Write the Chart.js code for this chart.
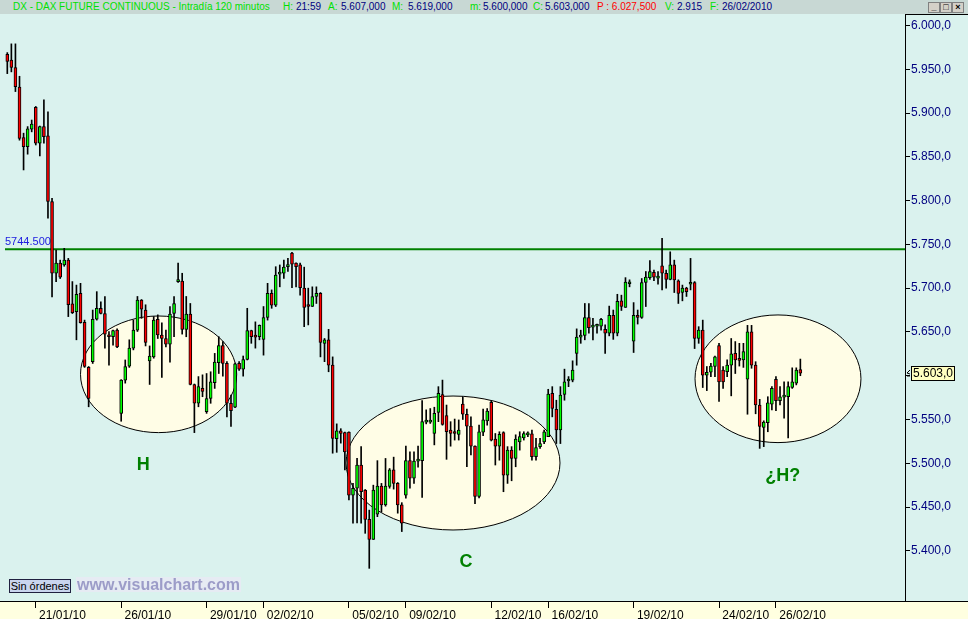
<!DOCTYPE html>
<html>
<head>
<meta charset="utf-8">
<title>DAX future 120 min</title>
<script src="https://cdn.jsdelivr.net/npm/chart.js@4.4.1/dist/chart.umd.min.js"></script>
<style>
  html, body { margin: 0; padding: 0; background: #daf2ee; overflow: hidden; }
  #wrap { position: relative; width: 968px; height: 619px; }
  #chart { position: absolute; left: 0; top: 0; }
  #header { position: absolute; left: 0; top: 0; width: 968px; height: 14px; background: #c8d8d4;
            font: 10px "Liberation Sans", Arial, sans-serif; }
  #header span { position: absolute; top: 2px; line-height: 10px; white-space: pre; }
  .g { color: #00e000; }
  .n { color: #000080; }
  .r { color: #ff0000; }
  .btn { position: absolute; top: 2px; width: 10px; height: 9px; background: #d4d0c8;
         border: 1px solid #808080; font: bold 9px "Liberation Sans", Arial; line-height: 8px;
         text-align: center; color: #000; }
  #orders { position: absolute; left: 9px; top: 579px; width: 60px; height: 12px; background: #c9d5ee;
            border: 1px solid #202040; font: 11px "Liberation Sans", Arial, sans-serif; line-height: 12px;
            text-align: center; color: #000; }
  #mark { position: absolute; left: 76px; top: 577px; height: 15px; background: #e6ebf3; padding: 0 1px;
          font: bold 16px "Liberation Sans", Arial, sans-serif; line-height: 15px; color: #9c9cc8; }
</style>
</head>
<body>
<div id="wrap">
  <canvas id="chart" width="968" height="619"></canvas>
  <div id="header">
    <span class="g" style="left:13px">DX - DAX FUTURE CONTINUOUS - Intradía 120 minutos</span>
    <span class="g" style="left:283px">H:</span><span class="n" style="left:296px">21:59</span>
    <span class="g" style="left:328px">A:</span><span class="n" style="left:341px">5.607,000</span>
    <span class="g" style="left:392px">M:</span><span class="n" style="left:408px">5.619,000</span>
    <span class="g" style="left:470px">m:</span><span class="n" style="left:483px">5.600,000</span>
    <span class="g" style="left:533px">C:</span><span class="n" style="left:545px">5.603,000</span>
    <span class="r" style="left:597px">P : 6.027,500</span>
    <span class="g" style="left:665px">V:</span><span class="n" style="left:677px">2.915</span>
    <span class="g" style="left:710px">F:</span><span class="n" style="left:722px">26/02/2010</span>
    <div class="btn" style="left:928px">_</div>
    <div class="btn" style="left:940px">□</div>
    <div class="btn" style="left:952px">×</div>
  </div>
  <div id="orders">Sin órdenes</div>
  <div id="mark">www.visualchart.com</div>
</div>
<script>
// ------------------------
// Data (120 minute bars, 7 per session)
// ------------------------

const days = ['20/01/10', '21/01/10', '22/01/10', '25/01/10', '26/01/10', '27/01/10', '28/01/10',
  '29/01/10', '01/02/10', '02/02/10', '03/02/10', '04/02/10', '05/02/10', '08/02/10', '09/02/10',
  '10/02/10', '11/02/10', '12/02/10', '15/02/10', '16/02/10', '17/02/10', '18/02/10', '19/02/10',
  '22/02/10', '23/02/10', '24/02/10', '25/02/10', '26/02/10'];

const axisDays = ['21/01/10', '26/01/10', '29/01/10', '02/02/10', '05/02/10', '09/02/10',
  '12/02/10', '16/02/10', '19/02/10', '24/02/10', '26/02/10'];

const barsPerDay = 7;

const open = [
  5967, 5960.5, 5952, 5929.5, 5872, 5861.5, 5881.5, 5906.5, 5865.5, 5884.5,
  5874, 5799, 5717, 5728.5, 5726.5, 5732, 5682, 5673, 5694, 5661,
  5609.5, 5616, 5664.5, 5677, 5671, 5646.5, 5644.5, 5652, 5557, 5595,
  5611, 5631.5, 5652, 5686.5, 5675, 5617, 5621.5, 5664.5, 5646.5, 5642.5,
  5636, 5671, 5707.5, 5708, 5653, 5670.5, 5590, 5568.5, 5585.5, 5559,
  5574, 5592, 5615, 5634.5, 5614, 5568.5, 5564, 5614, 5607.5, 5618.5,
  5651.5, 5645.5, 5644.5, 5641.5, 5666.5, 5694, 5680.5, 5716, 5717, 5724.5,
  5740, 5728.5, 5726.5, 5700, 5679.5, 5679, 5690.5, 5694, 5637, 5641,
  5612, 5528, 5537, 5535, 5535.5, 5463.5, 5471.5, 5498, 5469.5, 5436,
  5413, 5442, 5474, 5452.5, 5473.5, 5492.5, 5477, 5452.5, 5463.5, 5503,
  5483, 5502.5, 5503, 5547, 5547, 5534, 5558, 5578.5, 5554.5, 5538,
  5534.5, 5533, 5567.5, 5556, 5542.5, 5519.5, 5462, 5535.5, 5548.5, 5569.5,
  5527.5, 5519.5, 5535, 5486.5, 5515, 5505.5, 5524.5, 5529, 5532.5, 5533.5,
  5507.5, 5519, 5524.5, 5530.5, 5580, 5561.5, 5538, 5578.5, 5594, 5595,
  5625.5, 5644, 5646, 5666.5, 5655.5, 5656.5, 5656.5, 5653, 5648.5, 5669,
  5648.5, 5685.5, 5678, 5705, 5639.5, 5669, 5666.5, 5706.5, 5712, 5718,
  5711.5, 5725.5, 5717, 5710, 5726.5, 5708.5, 5695, 5700, 5704.5, 5706.5,
  5642.5, 5652, 5600.5, 5604, 5610.5, 5634.5, 5606.5, 5604.5, 5612, 5625.5,
  5618.5, 5618, 5596, 5650, 5612, 5566.5, 5541, 5546.5, 5567.5, 5596,
  5571.5, 5575.5, 5576, 5586.5, 5591.5, 5607
];

const high = [
  5969, 5979, 5979, 5942, 5877, 5884.5, 5892, 5907.5, 5885, 5915,
  5901.5, 5802.5, 5743.5, 5732, 5745.5, 5734, 5707.5, 5703.5, 5705.5, 5663.5,
  5610.5, 5675, 5696, 5684.5, 5690.5, 5650.5, 5652, 5653.5, 5595.5, 5618,
  5641, 5663.5, 5690.5, 5687, 5681, 5634, 5667.5, 5669.5, 5660.5, 5652,
  5679, 5690.5, 5728.5, 5717, 5690.5, 5682.5, 5590.5, 5599, 5601, 5602.5,
  5604.5, 5625.5, 5644.5, 5639, 5616, 5578, 5614.5, 5616, 5622.5, 5677,
  5652, 5661.5, 5658, 5679, 5705.5, 5698, 5724.5, 5726.5, 5732, 5734,
  5741, 5729, 5728.5, 5724, 5700, 5701.5, 5701.5, 5695, 5642.5, 5653,
  5621.5, 5545, 5539.5, 5535.5, 5536, 5477, 5505.5, 5519, 5470, 5446.5,
  5475, 5503, 5477, 5505.5, 5494, 5507, 5478, 5455, 5519.5, 5513,
  5513, 5519.5, 5571.5, 5561, 5562.5, 5564, 5587.5, 5595, 5566.5, 5547.5,
  5550.5, 5549.5, 5576, 5562, 5553, 5520, 5543.5, 5562, 5562.5, 5571.5,
  5534, 5536, 5536, 5519, 5519, 5532.5, 5536, 5536, 5536, 5538,
  5528.5, 5528.5, 5538, 5584.5, 5587.5, 5572, 5587.5, 5607.5, 5599, 5617,
  5653.5, 5652, 5682.5, 5682.5, 5665.5, 5659, 5665.5, 5658, 5679.5, 5675,
  5693, 5692, 5712, 5709.5, 5683.5, 5675, 5711, 5719, 5731.5, 5720.5,
  5719, 5757, 5720.5, 5741.5, 5732, 5709.5, 5703.5, 5701, 5734, 5707.5,
  5656, 5663.5, 5610.5, 5614, 5622.5, 5637, 5610.5, 5618, 5642.5, 5639,
  5637, 5637, 5657.5, 5657.5, 5616, 5573, 5548.5, 5576, 5587.5, 5599,
  5587.5, 5593, 5593, 5609, 5609, 5619
];

const low = [
  5945, 5947, 5924.5, 5869, 5835, 5853, 5878.5, 5863.5, 5851, 5865.5,
  5780, 5690, 5707.5, 5711, 5725, 5667.5, 5671, 5641, 5660, 5609.5,
  5564.5, 5614, 5663.5, 5670.5, 5631.5, 5612, 5635, 5632, 5548, 5591.5,
  5609.5, 5629.5, 5650.5, 5665.5, 5634, 5590, 5620, 5642.5, 5598, 5633,
  5615.5, 5644.5, 5706.5, 5647.5, 5644.5, 5589.5, 5535, 5564.5, 5576, 5557,
  5568.5, 5585.5, 5602.5, 5599.5, 5553, 5542, 5563.5, 5606, 5599.5, 5618,
  5637, 5631.5, 5641, 5623.5, 5663.5, 5677, 5679, 5701.5, 5711, 5719,
  5700.5, 5701.5, 5692, 5656, 5658, 5679, 5682.5, 5621.5, 5616, 5604.5,
  5511.5, 5512.5, 5523, 5492.5, 5458, 5431.5, 5432, 5431.5, 5420, 5380,
  5413, 5439, 5444.5, 5451, 5471.5, 5470.5, 5443, 5422, 5460, 5471.5,
  5477, 5495.5, 5461, 5545, 5545.5, 5521, 5547.5, 5543.5, 5504.5, 5519.5,
  5526.5, 5526.5, 5550, 5496, 5509.5, 5454, 5460.5, 5531.5, 5543.5, 5525.5,
  5498, 5503.5, 5467.5, 5477, 5480, 5496, 5515, 5526.5, 5530.5, 5503.5,
  5503.5, 5517, 5522.5, 5530.5, 5553, 5522.5, 5522.5, 5572, 5587.5, 5593,
  5612, 5637, 5641, 5648.5, 5641, 5648.5, 5652, 5625.5, 5645.5, 5641.5,
  5645.5, 5674.5, 5678, 5701.5, 5626.5, 5659, 5665.5, 5679, 5710, 5708.5,
  5704.5, 5698, 5700, 5709.5, 5695, 5682.5, 5685.5, 5690.5, 5698, 5631,
  5637, 5586.5, 5583, 5599, 5599, 5570.5, 5585.5, 5599, 5577, 5602.5,
  5611, 5609.5, 5556, 5608.5, 5556.5, 5517, 5519, 5536, 5561, 5560,
  5566.5, 5551.5, 5529, 5585.5, 5589.5, 5600
];

const close = [
  5959, 5952, 5930, 5871, 5861.5, 5882, 5887.5, 5865.5, 5884.5, 5873,
  5799, 5717, 5728.5, 5712.5, 5732, 5681, 5672, 5693, 5660.5, 5610.5,
  5574, 5664.5, 5677, 5671, 5647.5, 5644.5, 5651.5, 5633, 5595, 5610.5,
  5631.5, 5652, 5686.5, 5676, 5638, 5622.5, 5663.5, 5646.5, 5642.5, 5636,
  5670.5, 5682.5, 5708.5, 5653, 5670.5, 5590, 5568.5, 5587.5, 5582, 5574,
  5593, 5615.5, 5634.5, 5614, 5568.5, 5560, 5613.5, 5607.5, 5618.5, 5651.5,
  5644.5, 5644, 5657.5, 5666.5, 5694, 5680.5, 5715, 5717, 5724, 5725.5,
  5727.5, 5724.5, 5700.5, 5678, 5679, 5690.5, 5694, 5638, 5641, 5612,
  5528.5, 5537, 5534, 5513, 5463.5, 5471.5, 5498, 5467.5, 5436, 5413,
  5469.5, 5474, 5452.5, 5474, 5492.5, 5477, 5452.5, 5431.5, 5503, 5483,
  5502.5, 5503.5, 5547.5, 5548, 5548, 5557, 5580, 5544.5, 5536, 5534,
  5534, 5538, 5556, 5542.5, 5519.5, 5462, 5536, 5549.5, 5559.5, 5526.5,
  5519.5, 5533, 5486.5, 5515, 5505.5, 5527.5, 5530.5, 5534, 5533.5, 5507.5,
  5518, 5522.5, 5536, 5579, 5562.5, 5538, 5578, 5593, 5594.5, 5606.5,
  5644, 5646, 5666.5, 5655, 5656, 5657, 5664.5, 5648.5, 5669, 5648.5,
  5685, 5679, 5707, 5706, 5669, 5666.5, 5706.5, 5712.5, 5719, 5712.5,
  5712.5, 5717, 5710, 5726.5, 5709.5, 5694, 5700, 5696, 5706.5, 5642.5,
  5652, 5600.5, 5604, 5611, 5621.5, 5593, 5593, 5612, 5625, 5618,
  5617.5, 5627.5, 5650, 5612, 5566.5, 5542, 5547, 5569, 5585.5, 5571.5,
  5576, 5576.5, 5587.5, 5593, 5606.5, 5603
];

const priceLevels = [5400, 5450, 5500, 5550, 5600, 5650, 5700, 5750, 5800, 5850, 5900, 5950, 6000];

const resistance = 5744.5;

// chart figures marked on the picture (bar index / price)
const patterns = [
  { name: 'H',   cx: 37.2,  cy: 5601.6, rx: 19.2, ry: 66.6, tx: 33.4,  ty: 5498 },
  { name: 'C',   cx: 109.6, cy: 5500.3, rx: 26.3, ry: 76.5, tx: 112.8, ty: 5387 },
  { name: '¿H?', cx: 189.5, cy: 5596.5, rx: 20.4, ry: 72.9, tx: 190.7, ty: 5485 }
];

// ------------------------
// Helpers
// ------------------------

function fmtPrice(v) {
  const parts = v.toFixed(1).split('.');
  return parts[0].replace(/\B(?=(\d{3})+(?!\d))/g, '.') + ',' + parts[1];
}

const idx = open.map((_, k) => k);
const bodies = idx.map(k => ({ x: k, y: [open[k], close[k]] }));
const wicks = idx.map(k => ({ x: k, y: [low[k], high[k]] }));
const bodyColors = idx.map(k => (close[k] >= open[k] ? '#00ff00' : '#ff0000'));
const lastClose = close[close.length - 1];

const FONT = '"Liberation Sans", Arial, sans-serif';

// ------------------------
// Plugins
// ------------------------

const backdrop = {
  id: 'backdrop',
  beforeDraw(chart) {
    const { ctx, chartArea: a, width, height } = chart;
    ctx.save();
    ctx.fillStyle = '#daf2ee';
    ctx.fillRect(0, 0, width, height);
    ctx.fillStyle = '#ffffe0';
    ctx.fillRect(0, a.bottom, width, height - a.bottom);
    ctx.strokeStyle = '#000';
    ctx.lineWidth = 1;
    ctx.beginPath();
    ctx.moveTo(0, a.bottom + 0.5);
    ctx.lineTo(width, a.bottom + 0.5);
    ctx.moveTo(a.right + 0.5, a.top + 0.5);
    ctx.lineTo(width, a.top + 0.5);
    ctx.stroke();
    ctx.restore();
  }
};

const figures = {
  id: 'figures',
  beforeDatasetsDraw(chart) {
    const { ctx, chartArea: a, scales: { x, y } } = chart;
    ctx.save();
    patterns.forEach(p => {
      const cx = x.getPixelForValue(p.cx);
      const cy = y.getPixelForValue(p.cy);
      const rx = x.getPixelForValue(p.cx + p.rx) - cx;
      const ry = y.getPixelForValue(p.cy - p.ry) - cy;
      ctx.beginPath();
      ctx.ellipse(cx, cy, rx, ry, 0, 0, Math.PI * 2);
      ctx.fillStyle = '#fffde6';
      ctx.fill();
      ctx.strokeStyle = '#000';
      ctx.lineWidth = 1;
      ctx.stroke();
    });

    // resistance level
    const ly = y.getPixelForValue(resistance);
    ctx.strokeStyle = '#008000';
    ctx.lineWidth = 2;
    ctx.beginPath();
    ctx.moveTo(a.left + 5, ly);
    ctx.lineTo(a.right, ly);
    ctx.stroke();
    ctx.fillStyle = '#2020e0';
    ctx.font = '11px ' + FONT;
    ctx.textAlign = 'left';
    ctx.textBaseline = 'alphabetic';
    ctx.fillText(resistance.toFixed(3), a.left + 5, ly - 4);
    ctx.restore();
  },
  afterDatasetsDraw(chart) {
    const { ctx, scales: { x, y } } = chart;
    ctx.save();
    ctx.fillStyle = '#008000';
    ctx.font = 'bold 18px ' + FONT;
    ctx.textAlign = 'center';
    ctx.textBaseline = 'middle';
    patterns.forEach(p => {
      ctx.fillText(p.name, x.getPixelForValue(p.tx), y.getPixelForValue(p.ty));
    });
    ctx.restore();
  },
  afterDraw(chart) {
    // last price tag on the price axis
    const { ctx, chartArea: a, scales: { y } } = chart;
    const py = Math.round(y.getPixelForValue(lastClose));
    ctx.save();
    ctx.fillStyle = '#ffffc0';
    ctx.fillRect(a.right + 6, py - 7, 44, 15);
    ctx.strokeStyle = '#000';
    ctx.lineWidth = 1;
    ctx.strokeRect(a.right + 6.5, py - 6.5, 43, 14);
    ctx.beginPath();
    ctx.moveTo(a.right + 5, py - 3);
    ctx.lineTo(a.right + 2, py);
    ctx.lineTo(a.right + 5, py + 1);
    ctx.moveTo(a.right + 2, py + 3);
    ctx.lineTo(a.right + 5, py + 3);
    ctx.stroke();
    ctx.fillStyle = '#000';
    ctx.font = '12px ' + FONT;
    ctx.textAlign = 'left';
    ctx.textBaseline = 'middle';
    ctx.fillText(fmtPrice(lastClose), a.right + 8, py + 1);
    ctx.restore();
  }
};

// ------------------------
// Chart.js Setup
// ------------------------

new Chart(document.getElementById('chart'), {
  type: 'bar',
  data: {
    datasets: [
      {
        label: 'body',
        data: bodies,
        backgroundColor: bodyColors,
        borderColor: '#000',
        borderWidth: 1,
        borderSkipped: false,
        barThickness: 3,
        minBarLength: 2,
        grouped: false,
        order: 1
      },
      {
        label: 'range',
        data: wicks,
        backgroundColor: '#000',
        borderWidth: 0,
        barThickness: 1,
        grouped: false,
        order: 2
      }
    ]
  },
  options: {
    responsive: false,
    animation: false,
    devicePixelRatio: 1,
    layout: { padding: { top: 14, left: 0, right: 0, bottom: 0 } },
    plugins: {
      legend: { display: false },
      tooltip: { enabled: false }
    },
    scales: {
      x: {
        type: 'linear',
        min: -1.795,
        max: 220.73,
        offset: false,
        afterBuildTicks: s => {
          s.ticks = axisDays.map(d => ({ value: days.indexOf(d) * barsPerDay }));
        },
        afterFit: s => { s.height = 18; },
        grid: { offset: false, drawOnChartArea: false, tickLength: 7, tickColor: '#000' },
        border: { color: '#000' },
        ticks: {
          autoSkip: false,
          maxRotation: 0,
          minRotation: 0,
          align: 'start',
          padding: 0,
          color: '#000',
          font: { family: FONT, size: 12 },
          callback: v => ' ' + days[Math.round(v / barsPerDay)]
        }
      },
      y: {
        position: 'right',
        min: 5342.7,
        max: 6013.1,
        afterBuildTicks: s => {
          s.ticks = priceLevels.map(v => ({ value: v }));
        },
        afterFit: s => { s.width = 63; },
        grid: { drawOnChartArea: false, tickLength: 5, tickColor: '#000' },
        border: { color: '#000' },
        ticks: {
          padding: 1,
          color: '#000080',
          font: { family: FONT, size: 12 },
          callback: v => (Math.abs(v - lastClose) < 10 ? '' : fmtPrice(v))
        }
      }
    }
  },
  plugins: [backdrop, figures]
});
</script>
</body>
</html>
